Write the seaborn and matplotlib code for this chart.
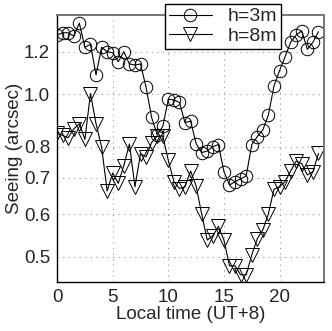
import numpy as np
import pandas as pd
import seaborn as sns
import matplotlib
matplotlib.use("Agg")
import matplotlib.pyplot as plt
from matplotlib.ticker import FixedLocator, FixedFormatter, NullLocator

hours = [i * 0.5 for i in range(48)]
seeing_3m = [1.288, 1.300, 1.300, 1.282, 1.354, 1.222, 1.238, 1.086, 1.222, 1.199,
             1.194, 1.149, 1.199, 1.138, 1.133, 1.138, 1.030, 0.906, 0.841, 0.872,
             0.979, 0.976, 0.966, 0.886, 0.892, 0.810, 0.780, 0.785, 0.800, 0.807,
             0.719, 0.679, 0.689, 0.697, 0.706, 0.806, 0.835, 0.859, 0.916, 1.036,
             1.106, 1.174, 1.248, 1.288, 1.311, 1.211, 1.248, 1.306]
seeing_8m = [0.847, 0.839, 0.831, 0.863, 0.882, 0.825, 1.003, 0.882, 0.799, 0.662,
             0.715, 0.684, 0.738, 0.809, 0.674, 0.776, 0.766, 0.814, 0.837, 0.837,
             0.754, 0.689, 0.669, 0.674, 0.721, 0.676, 0.600, 0.537, 0.547, 0.569,
             0.537, 0.481, 0.481, 0.463, 0.463, 0.504, 0.540, 0.561, 0.601, 0.667,
             0.674, 0.689, 0.721, 0.752, 0.744, 0.709, 0.719, 0.777]
labels = ["h=3m", "h=8m"]
x_ticks = [0, 5, 10, 15, 20]
y_ticks = [0.5, 0.6, 0.7, 0.8, 1.0, 1.2]
y_tick_labels = ["0.5", "0.6", "0.7", "0.8", "1.0", "1.2"]

sns.set_style("white")
plt.rcParams["font.family"] = ["Liberation Sans", "DejaVu Sans"]

fig = plt.figure(figsize=(3.32, 3.31), dpi=100)
ax = fig.add_axes([0.172, 0.148, 0.804, 0.807])

df = pd.DataFrame({"t": hours * 2,
                   "s": seeing_3m + seeing_8m,
                   "h": [labels[0]] * len(hours) + [labels[1]] * len(hours)})

sns.lineplot(data=df[df.h == labels[0]], x="t", y="s", ax=ax, color="black",
             linewidth=0.8, marker="o", markersize=9, markerfacecolor="none",
             markeredgecolor="black", markeredgewidth=0.7, label=labels[0])
sns.lineplot(data=df[df.h == labels[1]], x="t", y="s", ax=ax, color="black",
             linewidth=0.8, marker="v", markersize=9.5, markerfacecolor="none",
             markeredgecolor="black", markeredgewidth=0.7, label=labels[1])

ax.set_yscale("log")
ax.set_xlim(0, 24)
ax.set_ylim(0.449, 1.403)
ax.yaxis.set_major_locator(FixedLocator(y_ticks))
ax.yaxis.set_major_formatter(FixedFormatter(y_tick_labels))
ax.yaxis.set_minor_locator(NullLocator())
ax.set_xticks(x_ticks)
ax.tick_params(axis="both", direction="in", labelsize=13.5, length=3, pad=5)

ax.grid(True, which="major", linestyle=(0, (1, 4)), color="#999999", linewidth=0.8)

ax.set_xlabel("Local time (UT+8)", fontsize=13.5, labelpad=0)
ax.set_ylabel("Seeing (arcsec)", fontsize=13.5, labelpad=1)

for side in ["left", "bottom"]:
    ax.spines[side].set_color("black")
    ax.spines[side].set_linewidth(1.0)
for side in ["top", "right"]:
    ax.spines[side].set_color("#777777")
    ax.spines[side].set_linewidth(1.4)

leg = ax.legend(loc="upper left", bbox_to_anchor=(0.404, 1.041), fontsize=14,
                frameon=True, fancybox=False, edgecolor="black", framealpha=1,
                handlelength=2.2, borderpad=0.2, labelspacing=0.1,
                handletextpad=0.8, borderaxespad=0)
leg.get_frame().set_linewidth(1.0)

fig.savefig("out.png", dpi=100)
